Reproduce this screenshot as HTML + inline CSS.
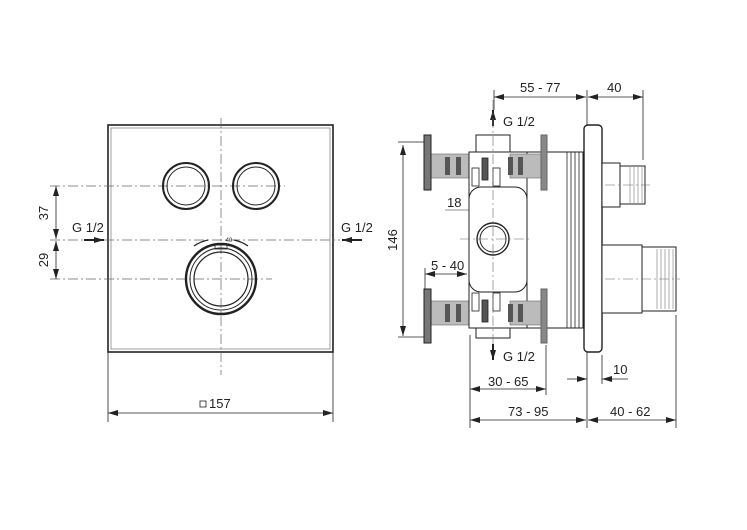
<!DOCTYPE html>
<html><head><meta charset="utf-8"><style>
html,body{margin:0;padding:0;background:#fff}
svg{display:block}
text{font-family:"Liberation Sans",Arial,sans-serif;font-size:13px;fill:#222}
</style></head><body>
<svg width="747" height="530" viewBox="0 0 747 530" xmlns="http://www.w3.org/2000/svg">
<defs>
<marker id="a" viewBox="0 0 10 6" refX="10" refY="3" markerWidth="10" markerHeight="6" orient="auto-start-reverse" markerUnits="userSpaceOnUse"><path d="M0,0L10,3L0,6z" fill="#222"/></marker>
</defs>
<g stroke="#222" fill="none">
<!-- front view -->
<rect x="108" y="125" width="225" height="227" stroke-width="1.6"/>
<rect x="111" y="128" width="219" height="221" stroke-width="0.7" stroke="#777"/>
<g stroke-width="0.7" stroke="#666" stroke-dasharray="10,3,2,3">
<line x1="221" y1="118" x2="221" y2="375"/>
<line x1="50" y1="186" x2="285" y2="186"/>
<line x1="50" y1="240" x2="340" y2="240"/>
<line x1="50" y1="279" x2="272" y2="279"/>
</g>
<circle cx="186" cy="186" r="23" stroke-width="2"/><circle cx="186" cy="186" r="19" stroke-width="1"/>
<circle cx="256" cy="186" r="23" stroke-width="2"/><circle cx="256" cy="186" r="19" stroke-width="1"/>
<circle cx="221" cy="279" r="35" stroke-width="2.4"/><circle cx="221" cy="279" r="31" stroke-width="1"/><circle cx="221" cy="279" r="27" stroke-width="1.2"/>
<path d="M194 246 A38 38 0 0 1 208 240" stroke-width="1.2"/>
<path d="M234 240 A38 38 0 0 1 248 246" stroke-width="1.2"/>
<rect x="215" y="245" width="12" height="4" stroke-width="0.8"/>
<g stroke-width="0.8">
<line x1="56" y1="186" x2="56" y2="239" marker-start="url(#a)" marker-end="url(#a)"/>
<line x1="56" y1="241" x2="56" y2="279" marker-start="url(#a)" marker-end="url(#a)"/>
<line x1="108" y1="352" x2="108" y2="422"/><line x1="333" y1="352" x2="333" y2="422"/>
<line x1="108" y1="413" x2="333" y2="413" marker-start="url(#a)" marker-end="url(#a)"/>
</g>
<line x1="84" y1="240" x2="104" y2="240" stroke-width="2" marker-end="url(#a)"/>
<line x1="362" y1="240" x2="342" y2="240" stroke-width="2" marker-end="url(#a)"/>
<rect x="200" y="401" width="6" height="6" stroke-width="0.8"/>

<!-- side view -->
<g stroke-width="0.8">
<line x1="494" y1="90" x2="494" y2="110"/>
<line x1="587" y1="90" x2="587" y2="125"/>
<line x1="643" y1="90" x2="643" y2="160"/>
<line x1="494" y1="97" x2="586" y2="97" marker-start="url(#a)" marker-end="url(#a)"/>
<line x1="588" y1="97" x2="643" y2="97" marker-start="url(#a)" marker-end="url(#a)"/>
<line x1="398" y1="142" x2="430" y2="142"/><line x1="398" y1="337" x2="430" y2="337"/>
<line x1="403" y1="145" x2="403" y2="336" marker-start="url(#a)" marker-end="url(#a)"/>
<line x1="445" y1="210" x2="469" y2="210" stroke-width="0.6"/>
<line x1="470" y1="210" x2="484" y2="210" marker-end="url(#a)"/>
<line x1="425" y1="268" x2="425" y2="290"/>
<line x1="425" y1="274" x2="467" y2="274" marker-start="url(#a)" marker-end="url(#a)"/>
<line x1="470" y1="335" x2="470" y2="428"/>
<line x1="546" y1="345" x2="546" y2="395"/>
<line x1="587" y1="352" x2="587" y2="428"/>
<line x1="602" y1="355" x2="602" y2="384"/>
<line x1="676" y1="315" x2="676" y2="428"/>
<line x1="470" y1="389" x2="546" y2="389" marker-start="url(#a)" marker-end="url(#a)"/>
<line x1="470" y1="420" x2="586" y2="420" marker-start="url(#a)" marker-end="url(#a)"/>
<line x1="588" y1="420" x2="676" y2="420" marker-start="url(#a)" marker-end="url(#a)"/>
<line x1="567" y1="379" x2="587" y2="379" marker-end="url(#a)"/>
<line x1="628" y1="379" x2="602" y2="379" marker-end="url(#a)"/>
</g>
<line x1="493" y1="126" x2="493" y2="110" stroke-width="2" marker-end="url(#a)"/>
<line x1="493" y1="344" x2="493" y2="360" stroke-width="2" marker-end="url(#a)"/>
<!-- connectors -->
<rect x="431" y="154" width="110" height="24" fill="#bbb" stroke="#666" stroke-width="0.6"/>
<rect x="431" y="301" width="110" height="24" fill="#bbb" stroke="#666" stroke-width="0.6"/>
<g fill="#555" stroke="none">
<rect x="445" y="157" width="5" height="18"/><rect x="456" y="157" width="5" height="18"/>
<rect x="445" y="304" width="5" height="18"/><rect x="456" y="304" width="5" height="18"/>
</g>
<rect x="424" y="135" width="7" height="55" fill="#777" stroke-width="1"/>
<rect x="424" y="289" width="7" height="54" fill="#777" stroke-width="1"/>
<!-- body -->
<rect x="469" y="152" width="58" height="176" fill="#fff" stroke-width="1"/>
<g stroke-width="0.8"><rect x="472" y="168" width="7" height="18"/><rect x="482" y="158" width="6" height="22" fill="#555"/><rect x="493" y="168" width="7" height="18"/>
<rect x="472" y="293" width="7" height="18"/><rect x="482" y="300" width="6" height="22" fill="#555"/><rect x="493" y="293" width="7" height="18"/></g>
<rect x="476" y="135" width="34" height="17" fill="#fff" stroke-width="1"/>
<rect x="476" y="328" width="34" height="10" fill="#fff" stroke-width="1"/>
<rect x="527" y="152" width="56" height="176" fill="#fff" stroke-width="1"/>
<rect x="510" y="154" width="31" height="24" fill="#bbb" stroke="#666" stroke-width="0.6"/>
<rect x="510" y="301" width="31" height="24" fill="#bbb" stroke="#666" stroke-width="0.6"/>
<g fill="#555" stroke="none"><rect x="508" y="157" width="5" height="18"/><rect x="518" y="157" width="5" height="18"/><rect x="508" y="304" width="5" height="18"/><rect x="518" y="304" width="5" height="18"/></g>
<rect x="541" y="135" width="6" height="55" fill="#888" stroke="#666"/>
<rect x="541" y="289" width="6" height="54" fill="#888" stroke="#666"/>
<g stroke-width="0.8"><line x1="567" y1="152" x2="567" y2="328"/><line x1="571" y1="152" x2="571" y2="328"/><line x1="575" y1="152" x2="575" y2="328"/><line x1="579" y1="152" x2="579" y2="328"/></g>
<rect x="469" y="187" width="58" height="105" rx="12" fill="#fff" stroke-width="1"/>
<circle cx="493" cy="239" r="16" stroke-width="1.4"/><circle cx="493" cy="239" r="13" stroke-width="1"/>
<rect x="584" y="125" width="18" height="227" rx="4" fill="#fff" stroke-width="1.4"/>
<rect x="602" y="163" width="18" height="44" fill="#fff" stroke-width="1"/>
<rect x="620" y="166" width="25" height="38" fill="#fff" stroke-width="1"/>
<g stroke-width="0.6" stroke="#777"><line x1="630" y1="167" x2="630" y2="203"/><line x1="634" y1="167" x2="634" y2="203"/><line x1="638" y1="167" x2="638" y2="203"/><line x1="642" y1="167" x2="642" y2="203"/></g>
<rect x="602" y="245" width="40" height="68" fill="#fff" stroke-width="1"/>
<rect x="642" y="247" width="34" height="64" fill="#fff" stroke-width="1"/>
<g stroke-width="0.6" stroke="#777"><line x1="657" y1="249" x2="657" y2="309"/><line x1="661" y1="249" x2="661" y2="309"/><line x1="665" y1="249" x2="665" y2="309"/><line x1="669" y1="249" x2="669" y2="309"/><line x1="673" y1="249" x2="673" y2="309"/></g>
<g stroke-width="0.6" stroke="#666" stroke-dasharray="10,3,2,3">
<line x1="493" y1="100" x2="493" y2="345"/>
<line x1="460" y1="239" x2="530" y2="239"/>
<line x1="605" y1="185" x2="650" y2="185"/>
<line x1="605" y1="279" x2="680" y2="279"/>
</g>
</g>
<g>
<text x="48" y="213" transform="rotate(-90 48 213)" text-anchor="middle">37</text>
<text x="48" y="260" transform="rotate(-90 48 260)" text-anchor="middle">29</text>
<text x="72" y="232">G 1/2</text>
<text x="341" y="232">G 1/2</text>
<text x="209" y="408">157</text>
<text x="229" y="242" style="font-size:6px" text-anchor="middle">40</text>
<text x="520" y="92">55 - 77</text>
<text x="607" y="92">40</text>
<text x="503" y="126">G 1/2</text>
<text x="503" y="361">G 1/2</text>
<text x="397" y="240" transform="rotate(-90 397 240)" text-anchor="middle">146</text>
<text x="447" y="207">18</text>
<text x="431" y="270">5 - 40</text>
<text x="488" y="386">30 - 65</text>
<text x="508" y="416">73 - 95</text>
<text x="610" y="416">40 - 62</text>
<text x="613" y="374">10</text>
</g>
</svg>
</body></html>
